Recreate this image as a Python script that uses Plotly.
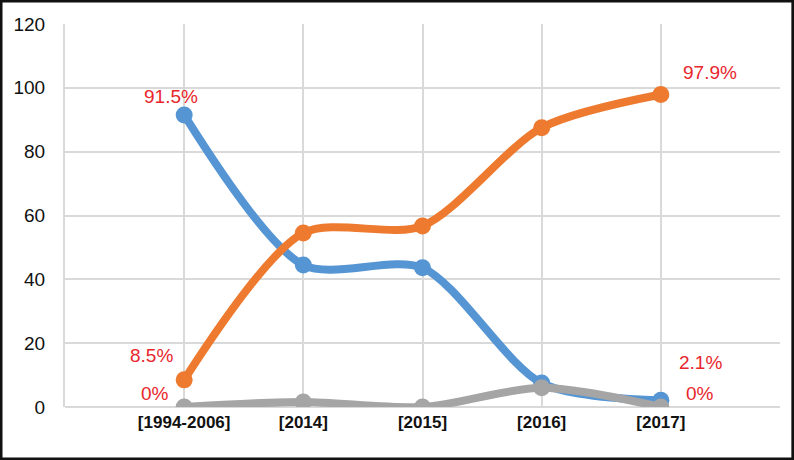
import plotly.graph_objects as go

categories = ["[1994-2006]", "[2014]", "[2015]", "[2016]", "[2017]"]
blue_vals = [91.5, 44.5, 43.6, 7.5, 2.1]
orange_vals = [8.5, 54.5, 56.7, 87.5, 97.9]
gray_vals = [0, 1.6, 0, 6, 0]

# point labels: (series values, category index, text, xshift, yshift)
labels = [
    (blue_vals, 0, "91.5%", -13, 18),
    (orange_vals, 4, "97.9%", 49, 22),
    (orange_vals, 0, "8.5%", -33, 24),
    (gray_vals, 0, "0%", -29, 14),
    (blue_vals, 4, "2.1%", 40, 38),
    (gray_vals, 4, "0%", 39, 14),
]

fig = go.Figure()
for vals, col in [(blue_vals, "#5595d3"), (orange_vals, "#ed7a2e"), (gray_vals, "#a5a5a5")]:
    fig.add_trace(go.Scatter(x=categories, y=vals, mode="lines+markers",
                             line=dict(color=col, width=8, shape="spline", smoothing=0.8),
                             marker=dict(color=col, size=17),
                             showlegend=False))

for vals, i, txt, dx, dy in labels:
    fig.add_annotation(x=categories[i], y=vals[i], text=txt, showarrow=False,
                       xshift=dx, yshift=dy,
                       font=dict(family="Liberation Sans", size=19, color="#e8262c"))

# outer black frame
fig.add_shape(type="rect", xref="paper", yref="paper",
              x0=-0.0895, x1=1.018, y0=-0.1358, y1=1.060,
              line=dict(color="#111111", width=3))

fig.update_layout(
    width=794, height=460,
    margin=dict(l=65, r=14, t=24, b=53),
    paper_bgcolor="white", plot_bgcolor="white",
    font=dict(family="Liberation Sans", color="#111111"),
)
fig.update_xaxes(type="category", range=[-1, 5], showgrid=True, gridcolor="#d9d9d9",
                 gridwidth=2, tickfont=dict(size=17, family="Liberation Sans", weight="bold"),
                 ticklabelstandoff=3, zeroline=False)
fig.update_yaxes(range=[0, 120], dtick=20, showgrid=True, gridcolor="#d9d9d9", gridwidth=2,
                 showline=True, linecolor="#d9d9d9", linewidth=2,
                 tickfont=dict(size=19, family="Liberation Sans"),
                 ticklabelstandoff=14, zeroline=True, zerolinecolor="#d9d9d9", zerolinewidth=2)

fig.write_html("out.html", config={"displayModeBar": False},
               post_script="document.body.style.margin='0';")
